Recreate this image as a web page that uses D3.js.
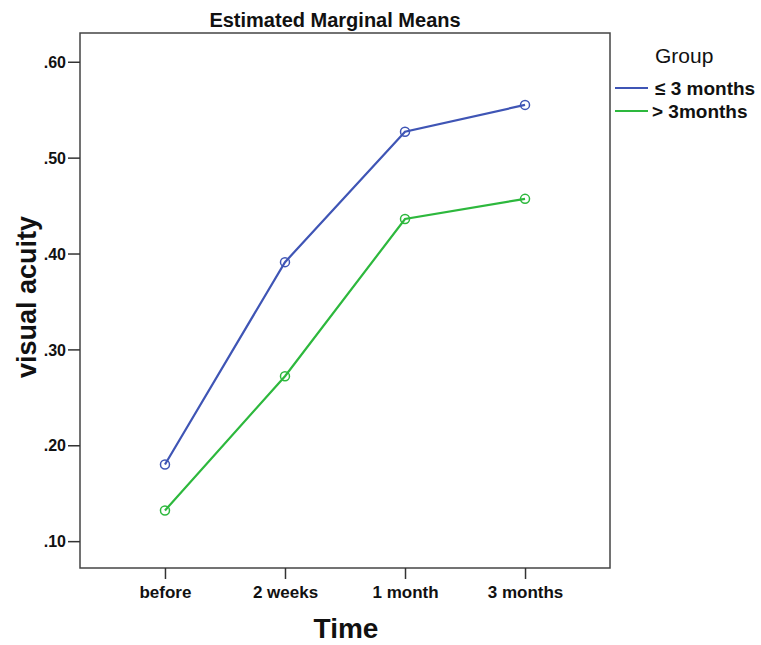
<!DOCTYPE html>
<html>
<head>
<meta charset="utf-8">
<script src="https://cdn.jsdelivr.net/npm/d3@7"></script>
<style>
  body { margin: 0; background: #fff; }
  svg { font-family: Arial, "Liberation Sans", sans-serif; }
</style>
</head>
<body>
<svg width="761" height="645"></svg>
<script>
const times = ["before", "2 weeks", "1 month", "3 months"];
const groups = ["\u2264 3 months", "> 3months"];
const shortVals = [0.180, 0.391, 0.527, 0.555];
const longVals = [0.132, 0.272, 0.436, 0.457];
const yTicks = [0.1, 0.2, 0.3, 0.4, 0.5, 0.6];
const colors = ["#3f55b5", "#2db83d"];

const series = [shortVals, longVals];

var svg = d3.select("svg");
var mLeft = 80, mRight = 610, mTop = 33, mBottom = 568;

var x = d3.scalePoint().domain(times).range([mLeft, mRight]).padding(0.708);
var y = d3.scaleLinear().domain([0.072, 0.630]).range([mBottom, mTop]);

// frame
svg.append("rect")
    .attr("x", mLeft).attr("y", mTop)
    .attr("width", mRight - mLeft).attr("height", mBottom - mTop)
    .attr("fill", "none").attr("stroke", "#444").attr("stroke-width", 1.5);

var yAxis = svg.append("g")
    .attr("transform", "translate(" + mLeft + ",0)")
    .call(d3.axisLeft(y).tickValues(yTicks).tickSize(12).tickPadding(2)
        .tickFormat(d => d3.format(".2f")(d).replace(/^0/, "")));
var xAxis = svg.append("g")
    .attr("transform", "translate(0," + mBottom + ")")
    .call(d3.axisBottom(x).tickSize(11));

[yAxis, xAxis].forEach(function(a) {
    a.select(".domain").remove();
    a.selectAll("line").attr("stroke", "#333").attr("stroke-width", 1.5);
    a.selectAll("text").attr("font-weight", "bold")
        .attr("fill", "#111").attr("font-family", "Arial, 'Liberation Sans', sans-serif");
});
yAxis.selectAll("text").attr("font-size", 16).attr("dy", "0.35em");
xAxis.selectAll("text").attr("font-size", 17).attr("dy", "0.95em");

var line = d3.line().x((d, i) => x(times[i])).y(d => y(d));

series.forEach(function(vals, s) {
    svg.append("path")
        .datum(vals)
        .attr("d", line)
        .attr("fill", "none")
        .attr("stroke", colors[s])
        .attr("stroke-width", 2.2);
    svg.selectAll(".pt" + s)
        .data(vals)
        .enter()
        .append("circle")
        .attr("class", "pt" + s)
        .attr("cx", (d, i) => x(times[i]))
        .attr("cy", d => y(d))
        .attr("r", 4.5)
        .attr("fill", "none")
        .attr("stroke", colors[s])
        .attr("stroke-width", 1.5);
});

// titles
svg.append("text").attr("x", 335).attr("y", 27).attr("text-anchor", "middle")
    .attr("font-size", 20).attr("font-weight", "bold").attr("fill", "#111").text("Estimated Marginal Means");
svg.append("text").attr("x", 346).attr("y", 638).attr("text-anchor", "middle")
    .attr("font-size", 28).attr("font-weight", "bold").attr("fill", "#111").text("Time");
svg.append("text").attr("transform", "translate(36,297) rotate(-90)").attr("text-anchor", "middle")
    .attr("font-size", 27).attr("font-weight", "bold").attr("fill", "#111").text("visual acuity");

// legend
svg.append("text").attr("x", 655).attr("y", 63)
    .attr("font-size", 21).attr("fill", "#111").text("Group");
groups.forEach(function(g, i) {
    var ly = 88 + i * 23;
    svg.append("line").attr("x1", 615).attr("x2", 648).attr("y1", ly).attr("y2", ly)
        .attr("stroke", colors[i]).attr("stroke-width", 2.2);
    svg.append("text").attr("x", i == 0 ? 655 : 652).attr("y", ly + 7)
        .attr("font-size", 19).attr("font-weight", "bold").attr("fill", "#111").text(g);
});
</script>
</body>
</html>
